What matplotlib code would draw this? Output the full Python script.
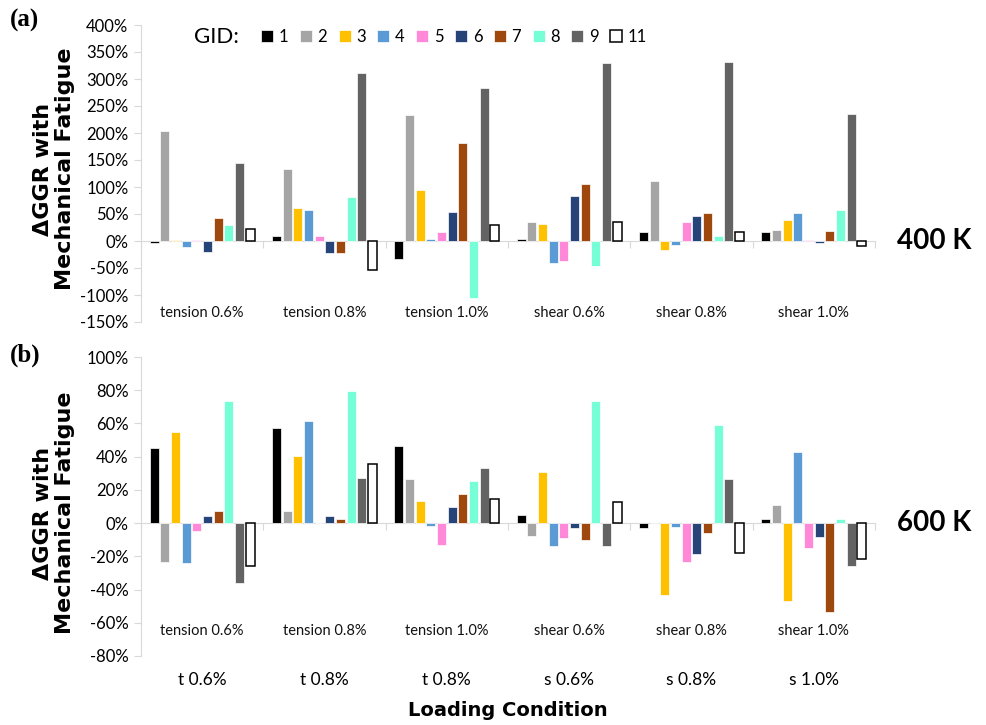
import matplotlib
matplotlib.use("Agg")
import matplotlib.pyplot as plt
import numpy as np
from matplotlib.ticker import FuncFormatter, FixedLocator

# ---------------- data ----------------
categories_long = ["tension 0.6%", "tension 0.8%", "tension 1.0%",
                   "shear 0.6%", "shear 0.8%", "shear 1.0%"]
categories_short = ["t 0.6%", "t 0.8%", "t 0.8%", "s 0.6%", "s 0.8%", "s 1.0%"]
gids = ["1", "2", "3", "4", "5", "6", "7", "8", "9", "11"]
colors = ["#000000", "#A5A5A5", "#FFC000", "#5B9BD5", "#FF88D8",
          "#264478", "#9E480E", "#76FFD6", "#636363", "#FFFFFF"]

# 400 K, percent change; one list per GID, one value per loading condition
top_g1 = [-3, 10, -33, 4, 17, 17]
top_g2 = [204, 133, 233, 36, 112, 21]
top_g3 = [2, 62, 94, 31, -16, 39]
top_g4 = [-12, 57, 4, -40, -7, 51]
top_g5 = [1.5, 10, 17, -37, 36, 2.5]
top_g6 = [-21, -22, 54, 84, 46, -4]
top_g7 = [43, -23, 181, 105, 52, 19]
top_g8 = [29, 81, -105, -46, 9, 57]
top_g9 = [144, 312, 284, 330, 331, 235]
top_g11 = [23, -53, 29, 35, 17, -9]

# 600 K
bot_g1 = [45.5, 57.5, 46.5, 4.7, -3, 2.2]
bot_g2 = [-23.7, 7.5, 26.5, -7.9, 0, 10.7]
bot_g3 = [54.7, 40.7, 13.4, 30.6, -43.5, -46.6]
bot_g4 = [-24.3, 61.3, -2, -13.8, -2.2, 42.7]
bot_g5 = [-4.7, 0, -13.2, -8.9, -23.5, -15]
bot_g6 = [4.5, 4.5, 9.9, -3, -18.6, -8.3]
bot_g7 = [7.1, 2.4, 17.6, -10.3, -5.7, -53.6]
bot_g8 = [73.3, 79.8, 25.5, 73.3, 59.1, 2.6]
bot_g9 = [-35.8, 27.3, 33.4, -13.8, 26.7, -26.1]
bot_g11 = [-25.9, 35.4, 14.4, 13, -17.8, -21.9]

top_series = [top_g1, top_g2, top_g3, top_g4, top_g5, top_g6, top_g7, top_g8, top_g9, top_g11]
bot_series = [bot_g1, bot_g2, bot_g3, bot_g4, bot_g5, bot_g6, bot_g7, bot_g8, bot_g9, bot_g11]

# ---------------- figure ----------------
W, H = 987, 725
fig = plt.figure(figsize=(W / 100, H / 100), dpi=100)

TICK_FONT = "Lato"
BOLD_FONT = "DejaVu Sans"
AX_GREY = "#D9D9D9"

def fx(px):
    return px / W

def fy(py):
    return 1 - py / H

ax_top = fig.add_axes([fx(141), fy(322), fx(875) - fx(141), fy(25) - fy(322)])
ax_bot = fig.add_axes([fx(141), fy(656), fx(875) - fx(141), fy(357) - fy(656)])

slot = 0.0872
bw = 0.071
x = np.arange(len(categories_long))

def draw(ax, series, ylim, ystep, label_y):
    handles = []
    for j, (vals, c) in enumerate(zip(series, colors)):
        off = (j - 4.5) * slot
        if gids[j] == "11":
            ec, lw = "#000000", 1.1
        else:
            ec, lw = "white", 0.5
        h = ax.bar(x + off, vals, width=bw, color=c, edgecolor=ec, linewidth=lw,
                   label=gids[j], zorder=3)
        handles.append(h)
    ax.set_xlim(-0.5, len(categories_long) - 0.5)
    ax.set_ylim(*ylim)
    ax.yaxis.set_major_locator(FixedLocator(np.arange(ylim[0], ylim[1] + 0.1, ystep)))
    ax.yaxis.set_major_formatter(FuncFormatter(lambda v, p: f"{v:.0f}%"))
    for s in ["top", "right"]:
        ax.spines[s].set_visible(False)
    ax.spines["left"].set_color(AX_GREY)
    ax.spines["bottom"].set_color(AX_GREY)
    ax.spines["bottom"].set_position(("data", 0))
    ax.spines["bottom"].set_zorder(2)
    ax.xaxis.set_major_locator(FixedLocator(np.arange(-0.5, len(categories_long), 1.0)))
    ax.tick_params(axis="x", which="major", direction="out", length=5,
                   color=AX_GREY, labelbottom=False)
    ax.tick_params(axis="y", direction="out", length=5, color=AX_GREY,
                   labelsize=12, pad=4)
    for lab in ax.get_yticklabels():
        lab.set_fontfamily(TICK_FONT)
    for i, name in enumerate(categories_long):
        ax.text(i, label_y, name, ha="center", va="center",
                fontsize=10.5, family=TICK_FONT, color="#111111")
    ax.patch.set_alpha(0)
    return handles

handles = draw(ax_top, top_series, (-150, 400), 50, -133)
draw(ax_bot, bot_series, (-80, 100), 20, -65)

for i, name in enumerate(categories_short):
    ax_bot.text(i, -0.08, name, transform=ax_bot.get_xaxis_transform(),
                ha="center", va="center", fontsize=12.5, family=TICK_FONT)

fig.text(fx(508), fy(710), "Loading Condition", ha="center", va="center",
         fontsize=14, fontweight="bold", family=BOLD_FONT)

ylabel = "\u0394GGR with\nMechanical Fatigue"
fig.text(fx(54), fy(169), ylabel, rotation=90, ha="center", va="center",
         multialignment="center", fontsize=16, fontweight="bold",
         family=BOLD_FONT, linespacing=1.1)
fig.text(fx(54), fy(513), ylabel, rotation=90, ha="center", va="center",
         multialignment="center", fontsize=16, fontweight="bold",
         family=BOLD_FONT, linespacing=1.1)

fig.text(fx(10), fy(20), "(a)", ha="left", va="center", fontsize=18,
         fontweight="bold", family="Liberation Serif")
fig.text(fx(10), fy(355), "(b)", ha="left", va="center", fontsize=18,
         fontweight="bold", family="Liberation Serif")

fig.text(fx(897), fy(241), "400 K", ha="left", va="center", fontsize=20,
         fontweight="bold", family="Lato")
fig.text(fx(897), fy(523), "600 K", ha="left", va="center", fontsize=20,
         fontweight="bold", family="Lato")

fig.text(fx(194), fy(37), "GID:", ha="left", va="center", fontsize=16,
         family=TICK_FONT)
fig.legend(handles=handles, labels=gids, loc="center left",
           bbox_to_anchor=(fx(261), fy(37)), ncol=10, frameon=False,
           prop={"family": TICK_FONT, "size": 12},
           handlelength=0.72, handleheight=0.72, handletextpad=0.35,
           columnspacing=0.68, borderpad=0, borderaxespad=0)

fig.savefig("out.png", dpi=100)
